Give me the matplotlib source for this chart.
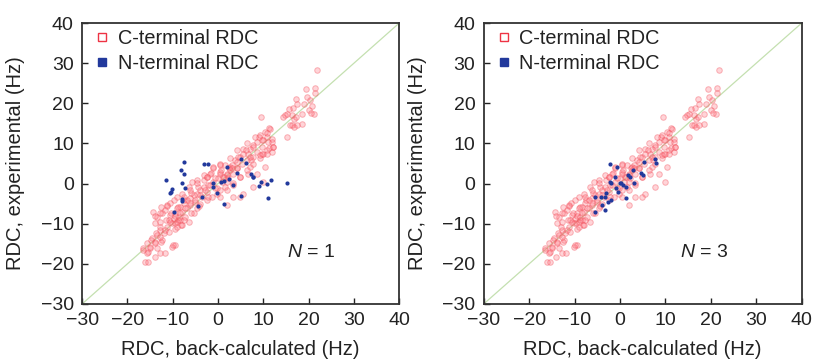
import numpy as np
import matplotlib
matplotlib.use("Agg")
import matplotlib.pyplot as plt
from matplotlib.lines import Line2D

plt.rcParams["font.family"] = ["Liberation Sans", "DejaVu Sans"]
plt.rcParams["mathtext.fontset"] = "custom"
plt.rcParams["mathtext.it"] = "Liberation Sans:italic"
plt.rcParams["mathtext.rm"] = "Liberation Sans"

# C-terminal RDCs (same in both panels): (back-calculated, experimental) in Hz
c_term_rdc = [
    (21.8, 28.2), (19.4, 23.7), (21.4, 23.9), (21.4, 22.6), (19.6, 21.6), (17.2, 21.0),
    (19.0, 19.9), (17.4, 19.9), (20.7, 19.3), (20.0, 18.3), (18.5, 17.4), (16.5, 18.9),
    (15.7, 18.7), (16.3, 17.0), (16.7, 16.2), (15.3, 17.4), (14.4, 16.6), (15.9, 14.5),
    (16.7, 14.1), (18.5, 14.8), (15.3, 11.6), (14.8, 17.0), (21.1, 17.4), (20.3, 20.9),
    (17.2, 16.7), (20.5, 17.5), (16.4, 14.6), (17.5, 14.6),
    (9.4, 16.5), (11.5, 13.5), (10.4, 12.9), (9.3, 12.1), (10.8, 11.6), (11.9, 11.2),
    (10.0, 10.8), (8.6, 10.4), (11.1, 10.4), (7.8, 9.6), (9.7, 9.2), (12.2, 9.2),
    (7.1, 8.7), (10.8, 8.3), (8.6, 7.9), (10.0, 7.5), (11.9, 7.9), (6.7, 7.5),
    (5.6, 8.7), (4.9, 6.7), (6.4, 5.8), (7.8, 6.7), (9.3, 6.3), (3.8, 5.8),
    (5.2, 5.0), (3.0, 4.6), (4.1, 3.8), (2.7, 3.3), (2.0, 2.5), (3.4, 2.5),
    (1.2, 1.7), (2.3, 1.3), (0.5, 2.5), (0.1, 1.3), (4.9, 1.7), (6.7, 2.5),
    (7.1, 4.2), (2.0, 0.4), (3.4, -0.4), (2.7, 4.2), (4.5, 6.7), (0.5, 5.0),
    (-1.0, 3.8), (-2.5, 1.7), (11.3, 13.8), (9.1, 11.7), (12.0, 10.4), (6.2, 8.4),
    (7.3, 5.9), (9.8, 7.5), (11.3, 8.8), (2.5, 3.8), (4.3, 3.8), (1.4, 1.7),
    (0.7, 3.4), (-1.5, 2.6), (-3.0, 0.9),
    (-1.0, 0.4), (-2.1, -0.4), (-3.2, -0.8), (-0.6, -1.2), (-4.0, -1.6), (-2.5, -2.0),
    (-4.7, -2.5), (-5.4, -2.9), (-3.6, -3.3), (-6.2, -3.7), (-6.9, -4.1), (-5.1, -4.5),
    (-7.6, -4.9), (-6.2, -5.4), (-8.4, -5.8), (-6.9, -6.2), (-9.1, -6.2), (-8.0, -7.0),
    (-9.5, -7.4), (-10.6, -7.8), (-8.7, -8.3), (-9.8, -8.7), (-10.9, -9.1), (-9.1, -9.5),
    (-8.4, -9.1), (-10.2, -9.9), (-8.0, -10.3), (-11.3, -10.7), (-9.5, -11.2), (-12.8, -11.6),
    (-10.9, -12.0), (-12.0, -12.4), (-13.5, -12.8), (-14.6, -13.6), (-12.4, -14.1), (-13.9, -14.5),
    (-15.7, -14.9), (-15.0, -15.7), (-16.5, -16.1), (-13.5, -16.1), (-15.4, -17.0), (-16.1, -19.5),
    (-12.8, -17.4), (-9.5, -15.3), (-10.2, -15.7), (-14.3, -7.0), (-13.5, -8.3), (-12.8, -9.5),
    (-11.7, -6.6), (-11.3, -5.4), (-12.4, -7.4), (-13.9, -9.9), (-5.4, -7.4), (-4.7, -6.2),
    (-4.0, -5.0), (-2.5, -4.1), (-1.4, -3.3), (-0.3, -2.5), (0.5, -1.6), (1.6, -0.8),
    (-6.5, -0.8), (-5.8, 0.4), (-4.7, 0.9), (-3.2, 2.1), (-1.7, 2.5), (0.5, 4.6),
    (-8.0, -2.5), (-9.1, -3.3), (-9.8, -4.1), (-7.3, -8.3), (-6.5, -9.5),
    (2.0, -5.4), (3.4, -3.3), (5.6, -2.5), (7.8, -0.8), (10.0, 0.4), (8.6, 2.5),
    (10.4, 4.2), (4.9, -3.3),
    (-4.5, -0.8), (-5.9, -2.4), (-7.4, -4.1), (-8.9, -5.8), (-10.3, -7.4), (-11.4, -9.1),
    (-8.9, -9.1), (-9.6, -9.9), (-8.1, -10.3), (-12.9, -10.7), (-14.0, -8.2), (-12.5, -5.8),
    (-10.7, -4.9), (-5.9, -7.4), (-14.7, -14.1), (-12.5, -14.5), (-10.0, -15.3), (-16.6, -16.5),
    (-15.5, -19.5), (-14.0, -18.2), (-11.8, -17.4), (-13.6, -12.4),
    (8.2, 11.7), (9.7, 10.9), (10.8, 12.5), (6.4, 10.0), (7.8, 9.2), (4.2, 8.4),
    (5.6, 7.5), (7.1, 6.7), (9.3, 7.1), (2.7, 6.3), (4.2, 5.5), (1.6, 4.6),
    (3.1, 3.8), (0.5, 3.0), (2.0, 2.1), (-0.6, 1.3), (0.8, 0.5), (-1.7, -0.3),
    (-0.3, -1.2), (-2.8, -1.6), (-3.9, -2.8), (-2.1, -3.3), (-5.0, -4.1), (-6.1, -4.9),
    (-4.3, -5.7), (-7.3, -6.2), (-8.4, -7.4), (-9.5, -8.2), (-7.6, -9.1), (-10.6, -9.5),
    (-9.1, -10.7), (-11.7, -11.6), (-12.8, -13.2), (-13.9, -14.9), (-15.0, -16.1), (-15.7, -17.4),
    (-1.0, 4.2), (-2.5, 1.7), (-4.7, 0.1), (-6.1, -1.6), (-7.6, -3.3), (-11.3, -5.7),
    (-12.8, -7.4), (3.4, 0.1), (4.9, 1.7), (6.4, 3.4), (7.8, 5.0), (10.8, 7.5),
    (12.2, 9.2), (1.9, -1.6), (0.5, -3.3),
]

# N-terminal RDCs, single-conformer fit (N = 1)
n_term_rdc_n1 = [
    (-11.5, 0.9), (-10.5, -2.3), (-10.35, -2.0), (-10.1, -1.4), (-9.8, -7.2), (-8.1, 3.4),
    (-7.6, 5.45), (-7.4, 2.3), (-7.85, 0.1), (-7.25, -1.0), (-7.85, -3.9), (-7.85, -4.3),
    (-3.2, 4.8), (-2.25, 4.8), (-4.45, -5.6), (-3.6, -3.3), (-1.2, 0.1), (-1.1, -0.8),
    (-0.3, -2.4), (0.6, 0.5), (1.4, 0.7), (1.9, 4.2), (1.4, -5.2), (3.4, -0.4),
    (4.1, 2.6), (5.0, 6.1), (6.2, 5.1), (5.1, -3.2), (7.25, 2.3), (7.65, 1.7),
    (7.8, 1.6), (9.45, 0.5), (9.1, -0.5), (10.9, -0.2), (11.7, 0.9), (11.1, -3.7),
    (15.2, 0.1), (2.5, 1.1),
]

# N-terminal RDCs, three-conformer ensemble (N = 3)
n_term_rdc_n3 = [
    (-2.1, 4.8), (-0.6, 4.2), (5.4, 5.3), (7.8, 6.05), (8.0, 5.05), (2.9, 3.4),
    (4.7, 2.55), (5.05, 2.1), (1.8, 2.1), (2.1, 1.7), (-1.2, 1.7), (-2.3, 0.5),
    (-1.9, 0.1), (-0.1, 0.2), (0.3, 0.1), (0.65, -0.35), (3.1, 0.1), (1.4, -0.8),
    (-0.8, -1.2), (-0.4, -2.0), (-3.0, -2.4), (-3.4, -3.3), (-4.1, -3.3), (-5.4, -3.3),
    (-2.05, -4.1), (-2.6, -4.5), (1.4, -3.7), (-4.0, -5.3), (-5.6, -7.0), (-3.4, -6.6),
]

ticks = [-30, -20, -10, 0, 10, 20, 30, 40]
panel_labels = ["1", "3"]
label_x = [15.2, 13.2]

text_col = "#222222"
red_face = (1.0, 0.45, 0.5, 0.3)
red_edge = (0.95, 0.3, 0.35, 0.4)
blue = "#22399c"

c_term = np.array(c_term_rdc)
fig = plt.figure(figsize=(8.13, 3.61), dpi=100)
axes = [fig.add_axes([0.101, 0.158, 0.390, 0.778]),
        fig.add_axes([0.595, 0.158, 0.391, 0.778])]

for ax, n_data, nlab, lx in zip(axes, [n_term_rdc_n1, n_term_rdc_n3], panel_labels, label_x):
    n_term = np.array(n_data)
    ax.plot([-30, 40], [-30, 40], color="#c4e0b0", lw=0.9, zorder=1)
    ax.scatter(c_term[:, 0], c_term[:, 1], s=16, facecolor=red_face,
               edgecolor=red_edge, linewidths=0.7, zorder=2)
    ax.scatter(n_term[:, 0], n_term[:, 1], s=9, color=blue, linewidths=0, zorder=3)
    ax.set_xlim(-30, 40)
    ax.set_ylim(-30, 40)
    ax.set_xticks(ticks)
    ax.set_yticks(ticks)
    ax.set_xticklabels([str(t).replace("-", "\u2212") for t in ticks])
    ax.set_yticklabels([str(t).replace("-", "\u2212") for t in ticks])
    ax.tick_params(direction="in", length=4, width=1.0, labelsize=14,
                   colors=text_col, pad=6)
    for sp in ax.spines.values():
        sp.set_linewidth(1.3)
        sp.set_color("#333333")
    ax.set_xlabel("RDC, back-calculated (Hz)", fontsize=14.5, color=text_col, labelpad=8)
    ax.set_ylabel("RDC, experimental (Hz)", fontsize=14.5, color=text_col, labelpad=11)
    ax.text(lx, -17.2, r"$N$ = " + nlab, fontsize=14, color=text_col, va="center")

    handles = [
        Line2D([], [], ls="none", marker="s", ms=5.5, mfc="white", mec="#ee3344", mew=1.0),
        Line2D([], [], ls="none", marker="s", ms=5.5, mfc=blue, mec=blue),
    ]
    ax.legend(handles, ["C-terminal RDC", "N-terminal RDC"], loc="upper left",
              frameon=False, fontsize=14.3, handlelength=0.6, handletextpad=0.5,
              borderaxespad=0.3, labelspacing=0.3, labelcolor=text_col,
              bbox_to_anchor=(0.0, 1.03))

fig.savefig("out.png", dpi=100)
